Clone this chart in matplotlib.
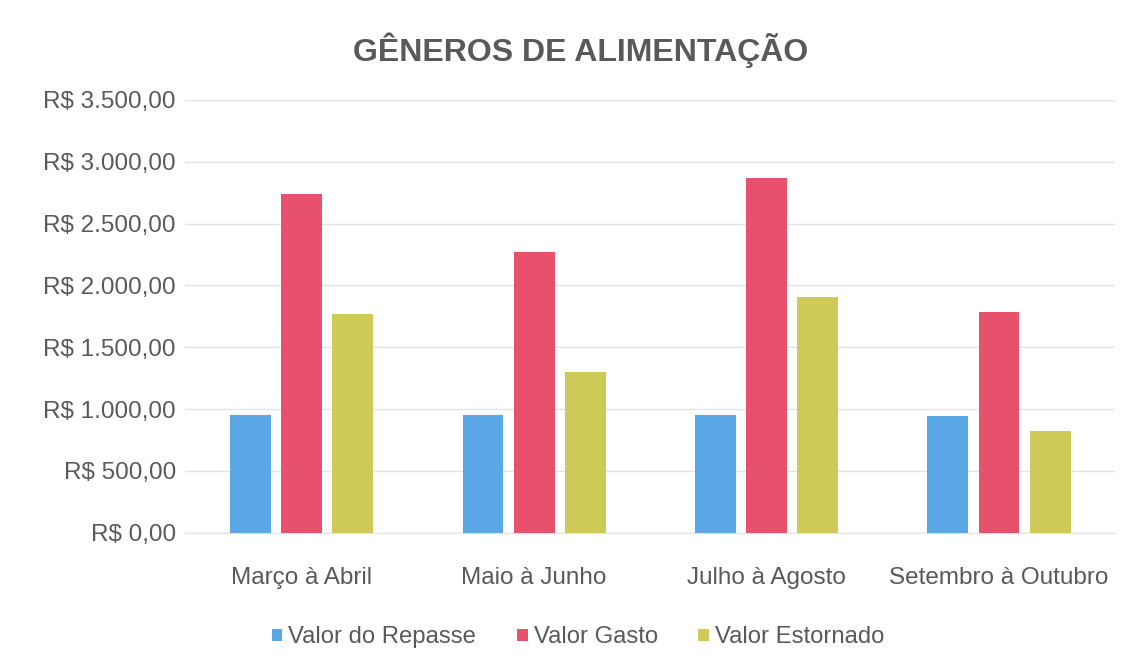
import numpy as np
import matplotlib.pyplot as plt

plt.rcParams['font.family'] = ['Liberation Sans', 'DejaVu Sans']

periodos = ['Março à Abril', 'Maio à Junho', 'Julho à Agosto', 'Setembro à Outubro']
valor_repasse = [955, 953, 950, 948]
valor_gasto = [2740, 2272, 2872, 1787]
valor_estornado = [1770, 1300, 1910, 825]

series = [('Valor do Repasse', valor_repasse, '#5BA7E6'),
          ('Valor Gasto', valor_gasto, '#E8516C'),
          ('Valor Estornado', valor_estornado, '#CDCA58')]

txt = '#595959'
fig = plt.figure(figsize=(11.38, 6.71), dpi=100)
ax = fig.add_axes([0.163, 0.206, 0.817, 0.645])

x = np.arange(len(periodos))
w = 0.176
for i, (nome, vals, cor) in enumerate(series):
    ax.bar(x + (i - 1) * 0.22, vals, w, color=cor, label=nome, zorder=3)

ax.set_xlim(-0.5, 3.5)
ax.set_ylim(0, 3500)
ax.set_yticks(np.arange(0, 3501, 500))
ax.set_yticklabels(['R$ ' + f'{v:,.2f}'.replace(',', 'X').replace('.', ',').replace('X', '.')
                    for v in np.arange(0, 3501, 500)])
ax.set_xticks(x)
ax.set_xticklabels(periodos)
ax.tick_params(length=0, labelsize=17.5, colors=txt)
ax.tick_params(axis='x', pad=25)
ax.tick_params(axis='y', pad=7)
ax.grid(axis='y', color='#E3E3E3', linewidth=1, zorder=0)
for s in ax.spines.values():
    s.set_visible(False)
ax.spines['bottom'].set_visible(True)
ax.spines['bottom'].set_color('#E3E3E3')

fig.text(0.51, 0.925, 'GÊNEROS DE ALIMENTAÇÃO', ha='center', va='center',
         fontsize=23, fontweight='bold', color=txt)

leg = fig.legend(loc='center', bbox_to_anchor=(0.508, 0.05), ncol=3, frameon=False,
                 fontsize=17.2, handlelength=0.45, handleheight=0.45, handletextpad=0.25,
                 columnspacing=1.7)
for t in leg.get_texts():
    t.set_color(txt)

fig.savefig('out.png', dpi=100, facecolor='white')
